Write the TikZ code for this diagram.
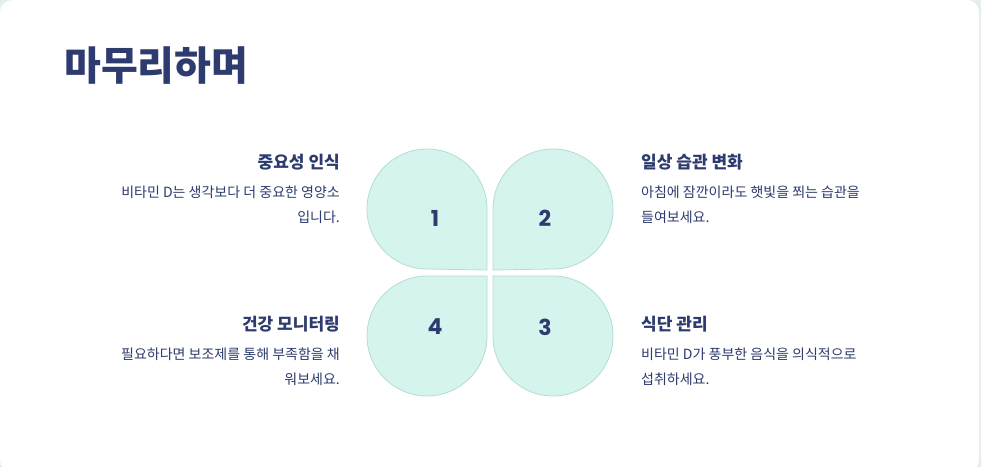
\documentclass[tikz,border=0pt]{standalone}
\usepackage{fontspec}
\setmainfont{Noto Sans CJK KR}
\newfontfamily\numfont{Poppins}
\definecolor{navy}{HTML}{2D3B6E}
\definecolor{petal}{HTML}{D6F4EE}
\definecolor{petalline}{HTML}{B3DDD3}
\definecolor{bgout}{HTML}{E4EEEB}
\tikzset{
 petalshape/.style={fill=petal,draw=petalline,line width=0.8pt},
 num/.style={font=\numfont\bfseries\fontsize{22}{24}\selectfont,text=navy},
 head/.style={font=\bfseries\fontsize{17}{20}\selectfont,text=navy,inner sep=0},
 body/.style={font=\fontsize{14}{25}\selectfont,text=navy,inner sep=0},
}
\begin{document}
\begin{tikzpicture}[x=1pt,y=1pt]
\fill[bgout] (0,0) rectangle (981,467);
\useasboundingbox (0,0) rectangle (981,467);
\fill[white,rounded corners=12pt] (0,-5) rectangle (979,467);
\node[anchor=west,font=\bfseries\fontsize{40}{44}\selectfont,text=navy,inner sep=0] (title) at (64,401) {마무리하며};
\draw[petalshape] (487,197) -- (487,258) arc[start angle=0,end angle=270,radius=60] -- cycle;
\draw[petalshape] (493,197) -- (493,258) arc[start angle=180,end angle=-90,radius=60] -- cycle;
\draw[petalshape] (487,191) -- (427,191) arc[start angle=90,end angle=360,radius=60] -- cycle;
\draw[petalshape] (493,191) -- (553,191) arc[start angle=90,end angle=-180,radius=60] -- cycle;
\node[num] (n1) at (435,249) {1};
\node[num] (n2) at (545,249) {2};
\node[num] (n4) at (435,140) {4};
\node[num] (n3) at (545,140) {3};
\node[head,anchor=east] (h1) at (340,305) {중요성 인식};
\node[body,anchor=north east,align=right] (b1) at (340,281) {비타민 D는 생각보다 더 중요한 영양소\\입니다.};
\node[head,anchor=west] (h2) at (641,305) {일상 습관 변화};
\node[body,anchor=north west,align=left] (b2) at (641,281) {아침에 잠깐이라도 햇빛을 쬐는 습관을\\들여보세요.};
\node[head,anchor=east] (h4) at (340,143) {건강 모니터링};
\node[body,anchor=north east,align=right] (b4) at (340,119) {필요하다면 보조제를 통해 부족함을 채\\워보세요.};
\node[head,anchor=west] (h3) at (641,143) {식단 관리};
\node[body,anchor=north west,align=left] (b3) at (641,119) {비타민 D가 풍부한 음식을 의식적으로\\섭취하세요.};
\end{tikzpicture}
\end{document}
